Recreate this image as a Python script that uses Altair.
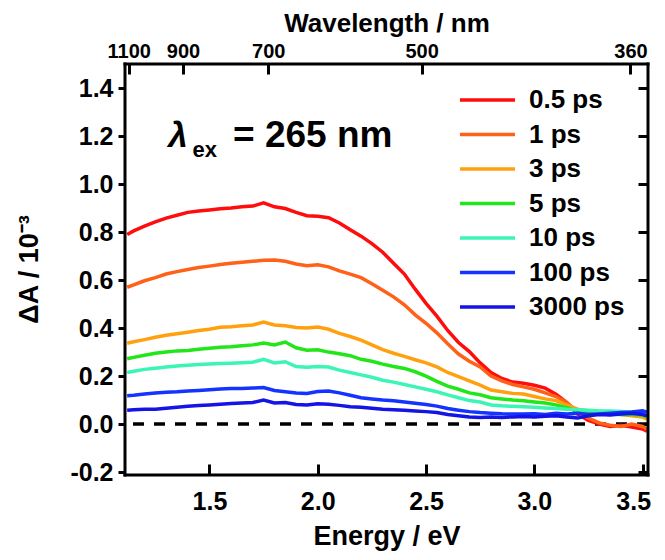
import altair as alt
import pandas as pd

# ---------------- data ----------------
energy = [1.12, 1.15, 1.20, 1.25, 1.30, 1.35, 1.40, 1.45, 1.50, 1.55,
          1.60, 1.65, 1.70, 1.75, 1.80, 1.85, 1.90, 1.95, 2.00, 2.05,
          2.10, 2.15, 2.20, 2.25, 2.30, 2.35, 2.40, 2.45, 2.50, 2.55,
          2.60, 2.65, 2.70, 2.75, 2.80, 2.85, 2.90, 2.95, 3.00, 3.05,
          3.10, 3.15, 3.20, 3.25, 3.30, 3.35, 3.40, 3.45, 3.50, 3.52]

dA_0p5ps = [0.790, 0.805, 0.825, 0.842, 0.858, 0.870, 0.882, 0.888, 0.892, 0.897,
            0.900, 0.905, 0.908, 0.922, 0.905, 0.898, 0.882, 0.868, 0.866, 0.860,
            0.838, 0.810, 0.783, 0.752, 0.716, 0.670, 0.625, 0.562, 0.503, 0.450,
            0.390, 0.340, 0.302, 0.255, 0.215, 0.190, 0.175, 0.170, 0.162, 0.150,
            0.125, 0.090, 0.042, 0.015, 0.000, -0.010, -0.005, -0.012, -0.020, -0.030]

dA_1ps = [0.570, 0.580, 0.597, 0.610, 0.625, 0.635, 0.644, 0.652, 0.658, 0.665,
          0.670, 0.674, 0.678, 0.683, 0.684, 0.678, 0.667, 0.660, 0.664, 0.655,
          0.638, 0.625, 0.610, 0.585, 0.558, 0.530, 0.497, 0.455, 0.420, 0.380,
          0.335, 0.292, 0.262, 0.238, 0.200, 0.180, 0.165, 0.155, 0.145, 0.130,
          0.115, 0.090, 0.050, 0.025, 0.005, -0.005, -0.010, 0.000, -0.010, -0.020]

dA_3ps = [0.337, 0.343, 0.352, 0.362, 0.370, 0.376, 0.383, 0.390, 0.395, 0.403,
          0.406, 0.410, 0.413, 0.425, 0.413, 0.410, 0.402, 0.400, 0.404, 0.395,
          0.378, 0.365, 0.350, 0.330, 0.310, 0.295, 0.282, 0.268, 0.255, 0.238,
          0.215, 0.198, 0.180, 0.162, 0.142, 0.135, 0.128, 0.125, 0.115, 0.105,
          0.098, 0.080, 0.062, 0.055, 0.050, 0.045, 0.040, 0.035, 0.030, 0.020]

dA_5ps = [0.272, 0.278, 0.287, 0.295, 0.300, 0.305, 0.307, 0.312, 0.316, 0.320,
          0.322, 0.326, 0.330, 0.338, 0.330, 0.342, 0.318, 0.308, 0.310, 0.300,
          0.293, 0.285, 0.270, 0.262, 0.250, 0.240, 0.232, 0.218, 0.200, 0.178,
          0.158, 0.145, 0.130, 0.122, 0.110, 0.105, 0.100, 0.097, 0.092, 0.088,
          0.080, 0.068, 0.055, 0.050, 0.045, 0.042, 0.040, 0.040, 0.038, 0.030]

dA_10ps = [0.215, 0.220, 0.228, 0.233, 0.238, 0.242, 0.245, 0.248, 0.250, 0.252,
           0.254, 0.256, 0.258, 0.270, 0.255, 0.260, 0.240, 0.237, 0.240, 0.238,
           0.225, 0.215, 0.205, 0.195, 0.183, 0.175, 0.165, 0.155, 0.145, 0.135,
           0.122, 0.110, 0.098, 0.092, 0.080, 0.076, 0.074, 0.072, 0.070, 0.067,
           0.065, 0.062, 0.060, 0.058, 0.055, 0.055, 0.052, 0.050, 0.050, 0.045]

dA_100ps = [0.118, 0.120, 0.125, 0.130, 0.133, 0.135, 0.138, 0.140, 0.143, 0.146,
            0.148, 0.148, 0.150, 0.152, 0.140, 0.135, 0.130, 0.128, 0.136, 0.138,
            0.130, 0.120, 0.110, 0.105, 0.100, 0.097, 0.092, 0.087, 0.082, 0.075,
            0.065, 0.058, 0.052, 0.048, 0.045, 0.043, 0.042, 0.042, 0.043, 0.040,
            0.045, 0.042, 0.045, 0.040, 0.042, 0.045, 0.048, 0.050, 0.055, 0.050]

dA_3000ps = [0.058, 0.060, 0.062, 0.062, 0.066, 0.070, 0.074, 0.077, 0.080, 0.083,
             0.086, 0.088, 0.090, 0.100, 0.088, 0.090, 0.082, 0.080, 0.085, 0.083,
             0.078, 0.072, 0.070, 0.066, 0.062, 0.060, 0.058, 0.055, 0.052, 0.048,
             0.040, 0.035, 0.030, 0.028, 0.030, 0.028, 0.030, 0.032, 0.030, 0.033,
             0.035, 0.030, 0.025, 0.035, 0.040, 0.038, 0.042, 0.045, 0.040, 0.035]

delays = ["0.5 ps", "1 ps", "3 ps", "5 ps", "10 ps", "100 ps", "3000 ps"]
colors = ["#ff0d0d", "#ff6119", "#ffa00f", "#22e61a", "#3cf5b4", "#1433ff", "#1414e6"]
series = [dA_0p5ps, dA_1ps, dA_3ps, dA_5ps, dA_10ps, dA_100ps, dA_3000ps]

x_ticks = [1.5, 2.0, 2.5, 3.0, 3.5]
y_ticks = [-0.2, 0.0, 0.2, 0.4, 0.6, 0.8, 1.0, 1.2, 1.4]
wl_ticks = [1100, 900, 700, 500, 360]
x_domain = [1.11, 3.525]
y_domain = [-0.212, 1.5]

anno_main = "= 265 nm"
anno_lambda = "λ"
anno_sub = "ex"

# ---------------- tables ----------------
rows = []
for d, vals in zip(delays, series):
    for e, v in zip(energy, vals):
        rows.append({"energy": e, "dA": v, "delay": d})
df = pd.DataFrame(rows)

top_vals = [1239.84 / w for w in wl_ticks]

FONT = "Liberation Sans"
x_scale = alt.Scale(domain=x_domain, nice=False, zero=False)
y_scale = alt.Scale(domain=y_domain, nice=False, zero=False)

common_axis = dict(domain=False, grid=False, tickColor="black", tickWidth=3,
                   labelFont=FONT, labelFontWeight="bold", labelColor="black",
                   titleFont=FONT, titleFontWeight="bold", titleColor="black")

zero = alt.Chart(pd.DataFrame({"dA": [0.0]})).mark_rule(
    color="black", strokeWidth=3.5, strokeDash=[11, 10]
).encode(y=alt.Y("dA:Q", scale=y_scale, axis=None))

lines = alt.Chart(df).mark_line(strokeWidth=3.5, clip=True).encode(
    x=alt.X("energy:Q", scale=x_scale,
            axis=alt.Axis(orient="bottom", values=x_ticks, format=".1f",
                          tickSize=11, offset=-11, labelPadding=14, labelFontSize=25,
                          labelFlush=7, labelFlushOffset=8,
                          title="Energy / eV", titleFontSize=27,
                          titleBaseline="alphabetic", titleY=80, **common_axis)),
    y=alt.Y("dA:Q", scale=y_scale,
            axis=alt.Axis(orient="left", values=y_ticks,
                          labelExpr="replace(format(datum.value, '.1f'), '\u2212', '-')",
                          tickSize=7, labelPadding=5, labelFontSize=25,
                          title="ΔA / 10⁻³", titleFontSize=27,
                          titleBaseline="alphabetic", titleX=-88, titleY=205,
                          **common_axis)),
    color=alt.Color("delay:N", sort=delays,
                    scale=alt.Scale(domain=delays, range=colors),
                    legend=alt.Legend(title=None, orient="none", legendX=333, legendY=23,
                                      symbolType="stroke", symbolSize=3025,
                                      symbolStrokeWidth=3.5, symbolOpacity=1,
                                      clipHeight=26, rowPadding=8.5,
                                      labelFont=FONT, labelFontWeight="bold",
                                      labelFontSize=26, labelColor="black",
                                      labelOffset=12)),
)

def anno(text, e, v, size, style="normal"):
    return alt.Chart(pd.DataFrame({"energy": [e], "dA": [v], "t": [text]})).mark_text(
        align="left", baseline="alphabetic", font=FONT, fontWeight="bold",
        fontStyle=style, fontSize=size, color="black"
    ).encode(x=alt.X("energy:Q", scale=x_scale, axis=None),
             y=alt.Y("dA:Q", scale=y_scale, axis=None), text="t:N")

t1 = anno(anno_lambda, 1.31, 1.155, 35, "italic")
t2 = anno(anno_sub, 1.422, 1.113, 22)
t3 = anno(anno_main, 1.609, 1.155, 37)

# plot frame: four edges spanning the full domains; this layer carries top/right axes
x0, x1 = x_domain
y0, y1 = y_domain
frame_df = pd.DataFrame({
    "e0": [x0, x0, x0, x1],
    "e1": [x1, x1, x0, x1],
    "v0": [y0, y1, y0, y0],
    "v1": [y0, y1, y1, y1],
})
frame = alt.Chart(frame_df).mark_rule(
    color="black", strokeWidth=3, strokeCap="square"
).encode(
    x=alt.X("e0:Q", scale=x_scale,
            axis=alt.Axis(orient="top", values=top_vals,
                          labelExpr="format(1239.84 / datum.value, '.0f')",
                          tickSize=10, offset=-10, labelPadding=3, labelFontSize=20,
                          title="Wavelength / nm", titleFontSize=26,
                          titleBaseline="alphabetic", titleY=-43, **common_axis)),
    x2="e1:Q",
    y=alt.Y("v0:Q", scale=y_scale,
            axis=alt.Axis(orient="right", values=y_ticks, labels=False,
                          tickSize=10, offset=-10, title=None, **common_axis)),
    y2="v1:Q",
)

chart = alt.layer(zero, lines, t1, t2, t3, frame).properties(
    width=523, height=411,
    padding={"left": 117, "top": 56, "right": 9, "bottom": 77},
    autosize=alt.AutoSizeParams(type="none"),
).configure_view(strokeWidth=0).configure(background="white")

chart.save("out.html", embed_options={"renderer": "svg", "actions": False})
